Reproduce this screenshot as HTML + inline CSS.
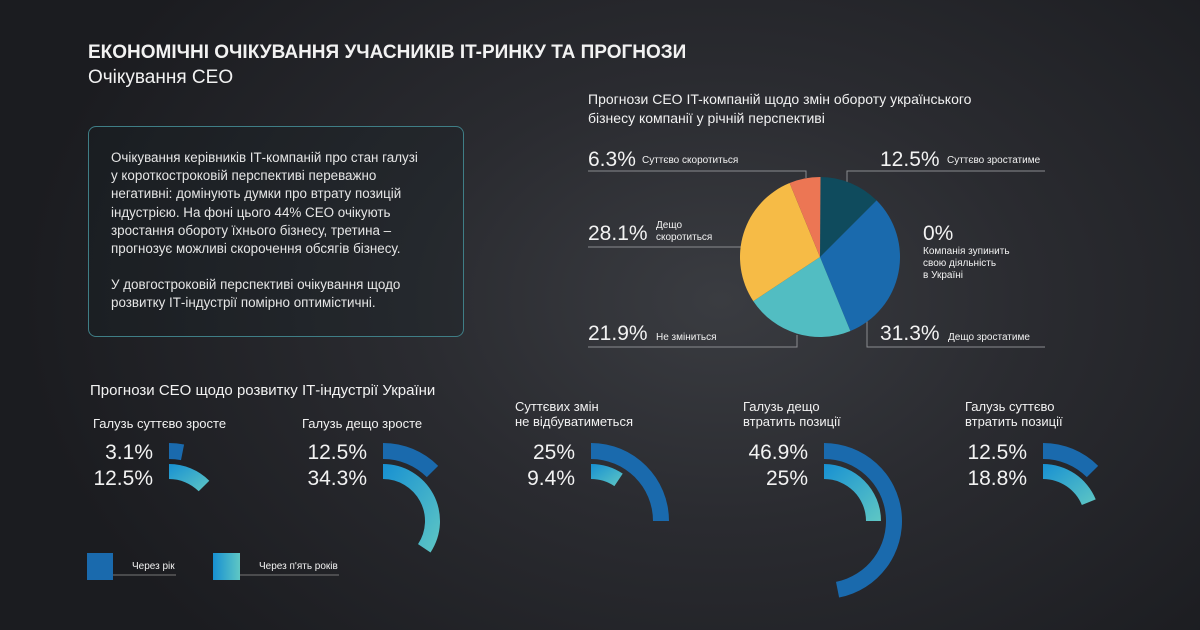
<!DOCTYPE html>
<html><head><meta charset="utf-8"><style>
body{margin:0;width:1200px;height:630px;overflow:hidden;font-family:"Liberation Sans",sans-serif;}
#bg{position:absolute;left:0;top:0;width:1200px;height:630px;background:radial-gradient(ellipse 700px 500px at 720px 300px,#3a3c41 0%,#2a2b30 45%,#1b1c20 100%);}
svg{position:absolute;left:0;top:0}
text{fill:#f2f2f2;font-family:"Liberation Sans",sans-serif}
.box{position:absolute;left:88px;top:126px;width:374px;height:209px;border:1px solid #3f7e86;border-radius:8px;background:rgba(20,30,35,0.25)}
.box p{margin:0;position:absolute;left:22px;color:#e6e6e6;font-size:13.4px;line-height:18.2px;width:360px;white-space:nowrap}
</style></head><body><div id="bg"></div>
<div class="box"><p style="top:22px">Очікування керівників ІТ-компаній про стан галузі<br>у короткостроковій перспективі переважно<br>негативні: домінують думки про втрату позицій<br>індустрією. На фоні цього 44% CEO очікують<br>зростання обороту їхнього бізнесу, третина –<br>прогнозує можливі скорочення обсягів бізнесу.</p>
<p style="top:149px">У довгостроковій перспективі очікування щодо<br>розвитку ІТ-індустрії помірно оптимістичні.</p></div>
<svg id="s" width="1200" height="630">
<defs><linearGradient id="g" x1="0" y1="0" x2="1" y2="1"><stop offset="0" stop-color="#1790d2"/><stop offset="1" stop-color="#5fc7c4"/></linearGradient>
<linearGradient id="gl" x1="0" y1="0" x2="1" y2="0"><stop offset="0" stop-color="#1790d2"/><stop offset="1" stop-color="#5fc7c4"/></linearGradient></defs>
<text x="88" y="58" font-size="19" font-weight="bold" fill="#fff">ЕКОНОМІЧНІ ОЧІКУВАННЯ УЧАСНИКІВ IT-РИНКУ ТА ПРОГНОЗИ</text>
<text x="88" y="83" font-size="19">Очікування СЕО</text>
<text x="588" y="104" font-size="14">Прогнози CEO IT-компаній щодо змін обороту українського</text>
<text x="588" y="123" font-size="14">бізнесу компанії у річній перспективі</text>
<g fill="none" stroke="#8a8c90" stroke-width="1">
<polyline points="588,171 806,171 806,178"/><polyline points="847,185 847,171 1045,171"/>
<polyline points="588,247 742,247"/><polyline points="588,347 797,347 797,335"/>
<polyline points="867,320 867,347 1045,347"/></g>
<g id="pie"></g>
<text x="588" y="166" font-size="21">6.3%</text><text x="642" y="163" font-size="10">Суттєво скоротиться</text>
<text x="880" y="166" font-size="21">12.5%</text><text x="947" y="163" font-size="10">Суттєво зростатиме</text>
<text x="588" y="240" font-size="21">28.1%</text><text x="656" y="228" font-size="10">Дещо</text><text x="656" y="240" font-size="10">скоротиться</text>
<text x="923" y="240" font-size="21">0%</text><text x="923" y="254" font-size="10">Компанія зупинить</text><text x="923" y="266" font-size="10">свою діяльність</text><text x="923" y="278" font-size="10">в Україні</text>
<text x="588" y="340" font-size="21">21.9%</text><text x="656" y="340" font-size="10">Не зміниться</text>
<text x="880" y="340" font-size="21">31.3%</text><text x="948" y="340" font-size="10">Дещо зростатиме</text>
<text x="90" y="395" font-size="15">Прогнози CEO щодо розвитку ІТ-індустрії України</text>
<g font-size="13">
<text x="93" y="428">Галузь суттєво зросте</text>
<text x="302" y="428">Галузь дещо зросте</text>
<text x="515" y="411">Суттєвих змін</text><text x="515" y="426">не відбуватиметься</text>
<text x="743" y="411">Галузь дещо</text><text x="743" y="426">втратить позиції</text>
<text x="965" y="411">Галузь суттєво</text><text x="965" y="426">втратить позиції</text>
</g>
<g id="arcs"></g>
<rect x="87" y="553" width="26" height="27" fill="#1a6aad"/><line x1="113" y1="575" x2="176" y2="575" stroke="#777" /><text x="132" y="569" font-size="10">Через рік</text>
<rect x="213" y="553" width="27" height="27" fill="url(#gl)"/><line x1="240" y1="575" x2="339" y2="575" stroke="#777"/><text x="259" y="569" font-size="10">Через п'ять років</text>
</svg>
<script>
function P(cx,cy,r,a){return [cx+r*Math.sin(a),cy-r*Math.cos(a)];}
function sector(cx,cy,ro,ri,a0,a1){var l=(a1-a0)>Math.PI?1:0;var p1=P(cx,cy,ro,a0),p2=P(cx,cy,ro,a1),p3=P(cx,cy,ri,a1),p4=P(cx,cy,ri,a0);
return 'M'+p1+' A'+ro+','+ro+' 0 '+l+' 1 '+p2+(ri>0?' L'+p3+' A'+ri+','+ri+' 0 '+l+' 0 '+p4:' L'+cx+','+cy)+' Z';}
var ns='http://www.w3.org/2000/svg';
function add(g,d,f){var e=document.createElementNS(ns,'path');e.setAttribute('d',d);e.setAttribute('fill',f);document.getElementById(g).appendChild(e);}
function addT(g,x,y,t){var e=document.createElementNS(ns,'text');e.setAttribute('x',x);e.setAttribute('y',y);e.setAttribute('font-size','21');e.setAttribute('text-anchor','end');e.textContent=t;document.getElementById(g).appendChild(e);}
var pie=[[12.5,'#0f4b5d'],[31.3,'#1a6aad'],[21.9,'#52bdc2'],[28.1,'#f6bb46'],[6.3,'#ec7654']];
var a=0;pie.forEach(function(s){var b=a+s[0]/100*2*Math.PI;add('pie',sector(820,257,80,0,a,b),s[1]);a=b;});
var gr=[[169,3.1,12.5,'3.1%','12.5%'],[383,12.5,34.3,'12.5%','34.3%'],[591,25,9.4,'25%','9.4%'],[824,46.9,25,'46.9%','25%'],[1043,12.5,18.8,'12.5%','18.8%']];
gr.forEach(function(g){var cx=g[0],cy=521;
add('arcs',sector(cx,cy,78,62,0,g[1]/100*2*Math.PI),'#1a6aad');
add('arcs',sector(cx,cy,57,42,0,g[2]/100*2*Math.PI),'url(#g)');
addT('arcs',cx-16,459,g[3]);addT('arcs',cx-16,485,g[4]);});
</script>
</body></html>
